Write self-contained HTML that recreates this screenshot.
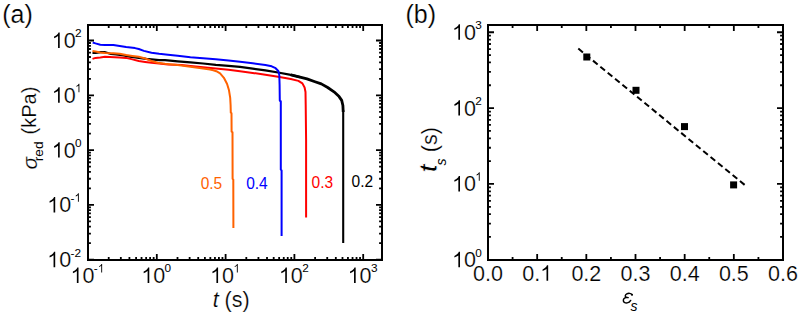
<!DOCTYPE html>
<html><head><meta charset="utf-8"><style>
html,body{margin:0;padding:0;background:#fff;width:800px;height:315px;overflow:hidden;position:relative;font-family:"Liberation Sans", sans-serif;}
</style></head><body>
<svg width="800" height="315" viewBox="0 0 800 315" style="position:absolute;left:0;top:0">
<rect width="800" height="315" fill="#fff"/>
<path d="M92.5 52.8 L95.6 53.0 L100.7 52.2 L104.5 52.0 L110.9 54.0 L116.0 54.4 L123.6 55.3 L129.9 56.6 L138.8 57.9 L146.4 58.9 L151.5 59.4 L159.1 60.1 L165.0 60.2 L177.7 61.3 L190.4 62.3 L203.1 63.5 L215.8 64.8 L228.5 65.8 L240.0 66.8 L252.7 68.6 L265.4 70.4 L278.1 72.5 L290.8 74.8 L300.0 77.1" fill="none" stroke="#000" stroke-width="2.2" stroke-linejoin="round" stroke-linecap="butt"/>
<path d="M290.8 74.8 L300.0 77.1 L307.0 78.9 L315.0 81.7 L321.3 83.9 L327.7 87.5 L334.0 91.8 L339.1 96.6 L341.7 100.4 L342.9 105.5 L343.2 112.0" fill="none" stroke="#000" stroke-width="2.8" stroke-linejoin="round" stroke-linecap="butt"/>
<path d="M343.2 110.0 L343.2 243.0" fill="none" stroke="#000" stroke-width="2.1" stroke-linejoin="round" stroke-linecap="butt"/>
<path d="M92.5 58.9 L95.5 57.9 L100.3 57.4 L105.0 56.8 L109.8 57.1 L119.7 57.6 L126.1 57.9 L132.4 59.4 L138.8 61.0 L145.1 61.9 L151.5 62.7 L159.1 63.6 L168.0 64.5 L181.5 65.0 L190.4 66.0 L203.1 67.2 L215.8 68.5 L228.5 69.8 L240.0 71.3 L252.7 72.9 L265.4 74.8 L278.1 76.7 L290.8 79.0 L298.4 80.9 L302.4 83.4 L304.6 87.5 L305.5 92.0 L305.7 104.8 L306.1 140.0 L306.1 217.5" fill="none" stroke="#ff0000" stroke-width="2.0" stroke-linejoin="round" stroke-linecap="butt"/>
<path d="M92.5 51.0 L95.5 51.5 L100.3 52.4 L105.0 53.0 L113.4 53.2 L119.7 53.8 L126.1 55.1 L132.4 56.0 L138.8 56.8 L145.1 58.5 L151.5 61.0 L157.8 62.7 L165.0 63.8 L177.7 65.1 L190.4 66.8 L203.1 68.5 L210.0 69.5 L213.3 70.2 L216.3 71.2 L220.1 73.4 L223.9 77.8 L227.1 84.0 L229.0 90.3 L230.2 97.9 L230.6 105.0 L230.8 112.6 L231.5 113.2 L231.6 131.6 L232.5 132.3 L232.6 178.8 L233.3 179.6 L233.4 228.1" fill="none" stroke="#ff6200" stroke-width="2.0" stroke-linejoin="round" stroke-linecap="butt"/>
<path d="M92.7 42.5 L95.5 43.4 L100.3 44.8 L105.0 45.1 L113.4 44.9 L119.7 45.9 L126.1 47.1 L135.0 48.1 L138.8 49.0 L143.9 50.9 L151.5 52.8 L159.1 53.8 L168.0 54.7 L177.7 55.8 L190.4 57.3 L203.1 58.3 L215.8 59.3 L228.5 60.5 L240.0 61.7 L252.7 63.3 L265.4 65.0 L271.7 66.3 L275.6 68.2 L278.3 71.0 L279.3 75.0 L279.6 85.0 L279.8 100.6 L280.8 101.4 L280.8 169.6 L281.6 170.4 L281.6 236.0" fill="none" stroke="#0000ff" stroke-width="2.0" stroke-linejoin="round" stroke-linecap="butt"/>
<path d="M88 259.70h6M382 259.70h-6M88 243.20h2.9M382 243.20h-2.9M88 233.55h2.9M382 233.55h-2.9M88 226.71h2.9M382 226.71h-2.9M88 221.40h2.9M382 221.40h-2.9M88 217.06h2.9M382 217.06h-2.9M88 213.39h2.9M382 213.39h-2.9M88 210.21h2.9M382 210.21h-2.9M88 207.41h2.9M382 207.41h-2.9M88 204.90h6M382 204.90h-6M88 188.40h2.9M382 188.40h-2.9M88 178.75h2.9M382 178.75h-2.9M88 171.91h2.9M382 171.91h-2.9M88 166.60h2.9M382 166.60h-2.9M88 162.26h2.9M382 162.26h-2.9M88 158.59h2.9M382 158.59h-2.9M88 155.41h2.9M382 155.41h-2.9M88 152.61h2.9M382 152.61h-2.9M88 150.10h6M382 150.10h-6M88 133.60h2.9M382 133.60h-2.9M88 123.95h2.9M382 123.95h-2.9M88 117.11h2.9M382 117.11h-2.9M88 111.80h2.9M382 111.80h-2.9M88 107.46h2.9M382 107.46h-2.9M88 103.79h2.9M382 103.79h-2.9M88 100.61h2.9M382 100.61h-2.9M88 97.81h2.9M382 97.81h-2.9M88 95.30h6M382 95.30h-6M88 78.80h2.9M382 78.80h-2.9M88 69.15h2.9M382 69.15h-2.9M88 62.31h2.9M382 62.31h-2.9M88 57.00h2.9M382 57.00h-2.9M88 52.66h2.9M382 52.66h-2.9M88 48.99h2.9M382 48.99h-2.9M88 45.81h2.9M382 45.81h-2.9M88 43.01h2.9M382 43.01h-2.9M88 40.50h6M382 40.50h-6M88.00 260v-6M88.00 25v6M108.71 260v-2.9M108.71 25v2.9M120.83 260v-2.9M120.83 25v2.9M129.42 260v-2.9M129.42 25v2.9M136.09 260v-2.9M136.09 25v2.9M141.54 260v-2.9M141.54 25v2.9M146.14 260v-2.9M146.14 25v2.9M150.13 260v-2.9M150.13 25v2.9M153.65 260v-2.9M153.65 25v2.9M156.80 260v-6M156.80 25v6M177.51 260v-2.9M177.51 25v2.9M189.63 260v-2.9M189.63 25v2.9M198.22 260v-2.9M198.22 25v2.9M204.89 260v-2.9M204.89 25v2.9M210.34 260v-2.9M210.34 25v2.9M214.94 260v-2.9M214.94 25v2.9M218.93 260v-2.9M218.93 25v2.9M222.45 260v-2.9M222.45 25v2.9M225.60 260v-6M225.60 25v6M246.31 260v-2.9M246.31 25v2.9M258.43 260v-2.9M258.43 25v2.9M267.02 260v-2.9M267.02 25v2.9M273.69 260v-2.9M273.69 25v2.9M279.14 260v-2.9M279.14 25v2.9M283.74 260v-2.9M283.74 25v2.9M287.73 260v-2.9M287.73 25v2.9M291.25 260v-2.9M291.25 25v2.9M294.40 260v-6M294.40 25v6M315.11 260v-2.9M315.11 25v2.9M327.23 260v-2.9M327.23 25v2.9M335.82 260v-2.9M335.82 25v2.9M342.49 260v-2.9M342.49 25v2.9M347.94 260v-2.9M347.94 25v2.9M352.54 260v-2.9M352.54 25v2.9M356.53 260v-2.9M356.53 25v2.9M360.05 260v-2.9M360.05 25v2.9M363.20 260v-6M363.20 25v6" stroke="#000" stroke-width="1.8" fill="none"/>
<rect x="88" y="25" width="294" height="235" fill="none" stroke="#000" stroke-width="2"/>
<line x1="578.3" y1="48.6" x2="744.9" y2="185.1" stroke="#000" stroke-width="2" stroke-dasharray="6 3.5"/>
<rect x="583.3" y="53.5" width="7" height="7" fill="#000"/>
<rect x="632.5" y="86.8" width="7" height="7" fill="#000"/>
<rect x="681.0" y="123.1" width="7" height="7" fill="#000"/>
<rect x="730.1" y="181.4" width="7" height="7" fill="#000"/>
<path d="M488 259.80h6M783 259.80h-6M488 236.97h2.9M783 236.97h-2.9M488 223.61h2.9M783 223.61h-2.9M488 214.13h2.9M783 214.13h-2.9M488 206.78h2.9M783 206.78h-2.9M488 200.78h2.9M783 200.78h-2.9M488 195.70h2.9M783 195.70h-2.9M488 191.30h2.9M783 191.30h-2.9M488 187.42h2.9M783 187.42h-2.9M488 183.95h6M783 183.95h-6M488 161.12h2.9M783 161.12h-2.9M488 147.76h2.9M783 147.76h-2.9M488 138.28h2.9M783 138.28h-2.9M488 130.93h2.9M783 130.93h-2.9M488 124.93h2.9M783 124.93h-2.9M488 119.85h2.9M783 119.85h-2.9M488 115.45h2.9M783 115.45h-2.9M488 111.57h2.9M783 111.57h-2.9M488 108.10h6M783 108.10h-6M488 85.27h2.9M783 85.27h-2.9M488 71.91h2.9M783 71.91h-2.9M488 62.43h2.9M783 62.43h-2.9M488 55.08h2.9M783 55.08h-2.9M488 49.08h2.9M783 49.08h-2.9M488 44.00h2.9M783 44.00h-2.9M488 39.60h2.9M783 39.60h-2.9M488 35.72h2.9M783 35.72h-2.9M488 32.25h6M783 32.25h-6M512.58 260v-2.9M512.58 25v2.9M537.17 260v-6M537.17 25v6M561.75 260v-2.9M561.75 25v2.9M586.33 260v-6M586.33 25v6M610.92 260v-2.9M610.92 25v2.9M635.50 260v-6M635.50 25v6M660.08 260v-2.9M660.08 25v2.9M684.67 260v-6M684.67 25v6M709.25 260v-2.9M709.25 25v2.9M733.83 260v-6M733.83 25v6M758.42 260v-2.9M758.42 25v2.9" stroke="#000" stroke-width="1.8" fill="none"/>
<rect x="488" y="25" width="295" height="235" fill="none" stroke="#000" stroke-width="2"/>
<g font-family='"Liberation Sans", sans-serif' fill="#000">
<text x="2.3" y="22.9" font-size="25" stroke="#fff" stroke-width="0.2">(a)</text>
<text x="405.5" y="22.9" font-size="25" stroke="#fff" stroke-width="0.2">(b)</text>
<path transform="translate(51.70 48.00) scale(0.01050 -0.01050)" d="M763 0H605V1135C560 1096 503 1058 433 1020C362 982 295 952 228 930V1088C333 1135 425 1192 500 1260C575 1327 625 1400 648 1472H763Z" fill="#000"/><text x="63.65" y="48.00" font-size="21.5" fill="#000" stroke="#fff" stroke-width="0.2">0</text><text x="75.01" y="37.40" font-size="11.8" fill="#000">2</text>
<path transform="translate(51.70 102.80) scale(0.01050 -0.01050)" d="M763 0H605V1135C560 1096 503 1058 433 1020C362 982 295 952 228 930V1088C333 1135 425 1192 500 1260C575 1327 625 1400 648 1472H763Z" fill="#000"/><text x="63.65" y="102.80" font-size="21.5" fill="#000" stroke="#fff" stroke-width="0.2">0</text><path transform="translate(75.01 92.20) scale(0.00576 -0.00576)" d="M763 0H605V1135C560 1096 503 1058 433 1020C362 982 295 952 228 930V1088C333 1135 425 1192 500 1260C575 1327 625 1400 648 1472H763Z" fill="#000"/>
<path transform="translate(51.70 157.60) scale(0.01050 -0.01050)" d="M763 0H605V1135C560 1096 503 1058 433 1020C362 982 295 952 228 930V1088C333 1135 425 1192 500 1260C575 1327 625 1400 648 1472H763Z" fill="#000"/><text x="63.65" y="157.60" font-size="21.5" fill="#000" stroke="#fff" stroke-width="0.2">0</text><text x="75.01" y="147.00" font-size="11.8" fill="#000">0</text>
<path transform="translate(47.20 212.40) scale(0.01050 -0.01050)" d="M763 0H605V1135C560 1096 503 1058 433 1020C362 982 295 952 228 930V1088C333 1135 425 1192 500 1260C575 1327 625 1400 648 1472H763Z" fill="#000"/><text x="59.15" y="212.40" font-size="21.5" fill="#000" stroke="#fff" stroke-width="0.2">0</text><text x="70.51" y="201.80" font-size="11.8" fill="#000">-</text><path transform="translate(74.44 201.80) scale(0.00576 -0.00576)" d="M763 0H605V1135C560 1096 503 1058 433 1020C362 982 295 952 228 930V1088C333 1135 425 1192 500 1260C575 1327 625 1400 648 1472H763Z" fill="#000"/>
<path transform="translate(47.20 267.20) scale(0.01050 -0.01050)" d="M763 0H605V1135C560 1096 503 1058 433 1020C362 982 295 952 228 930V1088C333 1135 425 1192 500 1260C575 1327 625 1400 648 1472H763Z" fill="#000"/><text x="59.15" y="267.20" font-size="21.5" fill="#000" stroke="#fff" stroke-width="0.2">0</text><text x="70.51" y="256.60" font-size="11.8" fill="#000">-2</text>
<path transform="translate(70.50 283.00) scale(0.01050 -0.01050)" d="M763 0H605V1135C560 1096 503 1058 433 1020C362 982 295 952 228 930V1088C333 1135 425 1192 500 1260C575 1327 625 1400 648 1472H763Z" fill="#000"/><text x="82.45" y="283.00" font-size="21.5" fill="#000" stroke="#fff" stroke-width="0.2">0</text><text x="93.81" y="272.40" font-size="11.8" fill="#000">-</text><path transform="translate(97.74 272.40) scale(0.00576 -0.00576)" d="M763 0H605V1135C560 1096 503 1058 433 1020C362 982 295 952 228 930V1088C333 1135 425 1192 500 1260C575 1327 625 1400 648 1472H763Z" fill="#000"/>
<path transform="translate(141.27 283.00) scale(0.01050 -0.01050)" d="M763 0H605V1135C560 1096 503 1058 433 1020C362 982 295 952 228 930V1088C333 1135 425 1192 500 1260C575 1327 625 1400 648 1472H763Z" fill="#000"/><text x="153.22" y="283.00" font-size="21.5" fill="#000" stroke="#fff" stroke-width="0.2">0</text><text x="164.57" y="272.40" font-size="11.8" fill="#000">0</text>
<path transform="translate(210.07 283.00) scale(0.01050 -0.01050)" d="M763 0H605V1135C560 1096 503 1058 433 1020C362 982 295 952 228 930V1088C333 1135 425 1192 500 1260C575 1327 625 1400 648 1472H763Z" fill="#000"/><text x="222.02" y="283.00" font-size="21.5" fill="#000" stroke="#fff" stroke-width="0.2">0</text><path transform="translate(233.37 272.40) scale(0.00576 -0.00576)" d="M763 0H605V1135C560 1096 503 1058 433 1020C362 982 295 952 228 930V1088C333 1135 425 1192 500 1260C575 1327 625 1400 648 1472H763Z" fill="#000"/>
<path transform="translate(278.87 283.00) scale(0.01050 -0.01050)" d="M763 0H605V1135C560 1096 503 1058 433 1020C362 982 295 952 228 930V1088C333 1135 425 1192 500 1260C575 1327 625 1400 648 1472H763Z" fill="#000"/><text x="290.82" y="283.00" font-size="21.5" fill="#000" stroke="#fff" stroke-width="0.2">0</text><text x="302.17" y="272.40" font-size="11.8" fill="#000">2</text>
<path transform="translate(347.67 283.00) scale(0.01050 -0.01050)" d="M763 0H605V1135C560 1096 503 1058 433 1020C362 982 295 952 228 930V1088C333 1135 425 1192 500 1260C575 1327 625 1400 648 1472H763Z" fill="#000"/><text x="359.62" y="283.00" font-size="21.5" fill="#000" stroke="#fff" stroke-width="0.2">0</text><text x="370.97" y="272.40" font-size="11.8" fill="#000">3</text>
<path transform="translate(452.00 39.75) scale(0.01050 -0.01050)" d="M763 0H605V1135C560 1096 503 1058 433 1020C362 982 295 952 228 930V1088C333 1135 425 1192 500 1260C575 1327 625 1400 648 1472H763Z" fill="#000"/><text x="463.95" y="39.75" font-size="21.5" fill="#000" stroke="#fff" stroke-width="0.2">0</text><text x="475.31" y="29.15" font-size="11.8" fill="#000">3</text>
<path transform="translate(452.00 115.60) scale(0.01050 -0.01050)" d="M763 0H605V1135C560 1096 503 1058 433 1020C362 982 295 952 228 930V1088C333 1135 425 1192 500 1260C575 1327 625 1400 648 1472H763Z" fill="#000"/><text x="463.95" y="115.60" font-size="21.5" fill="#000" stroke="#fff" stroke-width="0.2">0</text><text x="475.31" y="105.00" font-size="11.8" fill="#000">2</text>
<path transform="translate(452.00 191.45) scale(0.01050 -0.01050)" d="M763 0H605V1135C560 1096 503 1058 433 1020C362 982 295 952 228 930V1088C333 1135 425 1192 500 1260C575 1327 625 1400 648 1472H763Z" fill="#000"/><text x="463.95" y="191.45" font-size="21.5" fill="#000" stroke="#fff" stroke-width="0.2">0</text><path transform="translate(475.31 180.85) scale(0.00576 -0.00576)" d="M763 0H605V1135C560 1096 503 1058 433 1020C362 982 295 952 228 930V1088C333 1135 425 1192 500 1260C575 1327 625 1400 648 1472H763Z" fill="#000"/>
<path transform="translate(452.00 267.30) scale(0.01050 -0.01050)" d="M763 0H605V1135C560 1096 503 1058 433 1020C362 982 295 952 228 930V1088C333 1135 425 1192 500 1260C575 1327 625 1400 648 1472H763Z" fill="#000"/><text x="463.95" y="267.30" font-size="21.5" fill="#000" stroke="#fff" stroke-width="0.2">0</text><text x="475.31" y="256.70" font-size="11.8" fill="#000">0</text>
<text x="473.06" y="280.80" font-size="21.5" fill="#000" stroke="#fff" stroke-width="0.2">0.0</text>
<text x="522.22" y="280.80" font-size="21.5" fill="#000" stroke="#fff" stroke-width="0.2">0.</text><path transform="translate(540.16 280.80) scale(0.01050 -0.01050)" d="M763 0H605V1135C560 1096 503 1058 433 1020C362 982 295 952 228 930V1088C333 1135 425 1192 500 1260C575 1327 625 1400 648 1472H763Z" fill="#000"/>
<text x="571.39" y="280.80" font-size="21.5" fill="#000" stroke="#fff" stroke-width="0.2">0.2</text>
<text x="620.56" y="280.80" font-size="21.5" fill="#000" stroke="#fff" stroke-width="0.2">0.3</text>
<text x="669.72" y="280.80" font-size="21.5" fill="#000" stroke="#fff" stroke-width="0.2">0.4</text>
<text x="718.89" y="280.80" font-size="21.5" fill="#000" stroke="#fff" stroke-width="0.2">0.5</text>
<text x="768.06" y="280.80" font-size="21.5" fill="#000" stroke="#fff" stroke-width="0.2">0.6</text>
<text x="212.8" y="306.8" font-size="21.5" font-style="italic" stroke="#fff" stroke-width="0.2">t</text>
<text x="224.5" y="306.8" font-size="21.5" stroke="#fff" stroke-width="0.2">(s)</text>
<text transform="translate(36.5,169.5) rotate(-90)" font-size="21" font-style="italic" stroke="#fff" stroke-width="0.2">σ</text>
<text transform="translate(43.4,161.2) rotate(-90)" font-size="13.6">red</text>
<text transform="translate(35.6,134.4) rotate(-90)" font-size="21" textLength="47.7" lengthAdjust="spacingAndGlyphs" stroke="#fff" stroke-width="0.2">(kPa)</text>
<text transform="translate(436.6,172.6) rotate(-90)" font-size="25" font-style="italic" font-weight="bold" stroke="#fff" stroke-width="0.8">t</text>
<text transform="translate(445.5,165.5) rotate(-90)" font-size="14" font-style="italic">s</text>
<text transform="translate(437,152.2) rotate(-90)" font-size="21.5" stroke="#fff" stroke-width="0.2">(s)</text>
<path d="M632.0 294.7C631.0 293.3 628.6 292.9 626.8 293.9C625.2 294.8 624.6 296.6 626.2 297.3L628.2 297.6M626.6 297.4C624.2 297.9 623.2 299.6 623.4 301.0C623.7 302.6 625.5 303.3 627.2 302.9C628.8 302.6 630.0 301.6 630.7 300.4" fill="none" stroke="#000" stroke-width="1.45" stroke-linecap="round"/><circle cx="632" cy="294.8" r="1.0" fill="#000"/>
<text x="630.5" y="310.5" font-size="14" font-style="italic">s</text>
<text transform="translate(200.7,189.3) scale(0.94,1)" font-size="16.5" fill="#ff6200">0.5</text>
<text transform="translate(246.2,189) scale(0.94,1)" font-size="16.5" fill="#0000ff">0.4</text>
<text transform="translate(311.6,187.8) scale(0.94,1)" font-size="16.5" fill="#ff0000">0.3</text>
<text transform="translate(351.6,186.7) scale(0.94,1)" font-size="16.5" fill="#000">0.2</text>
</g>
</svg>
</body></html>
